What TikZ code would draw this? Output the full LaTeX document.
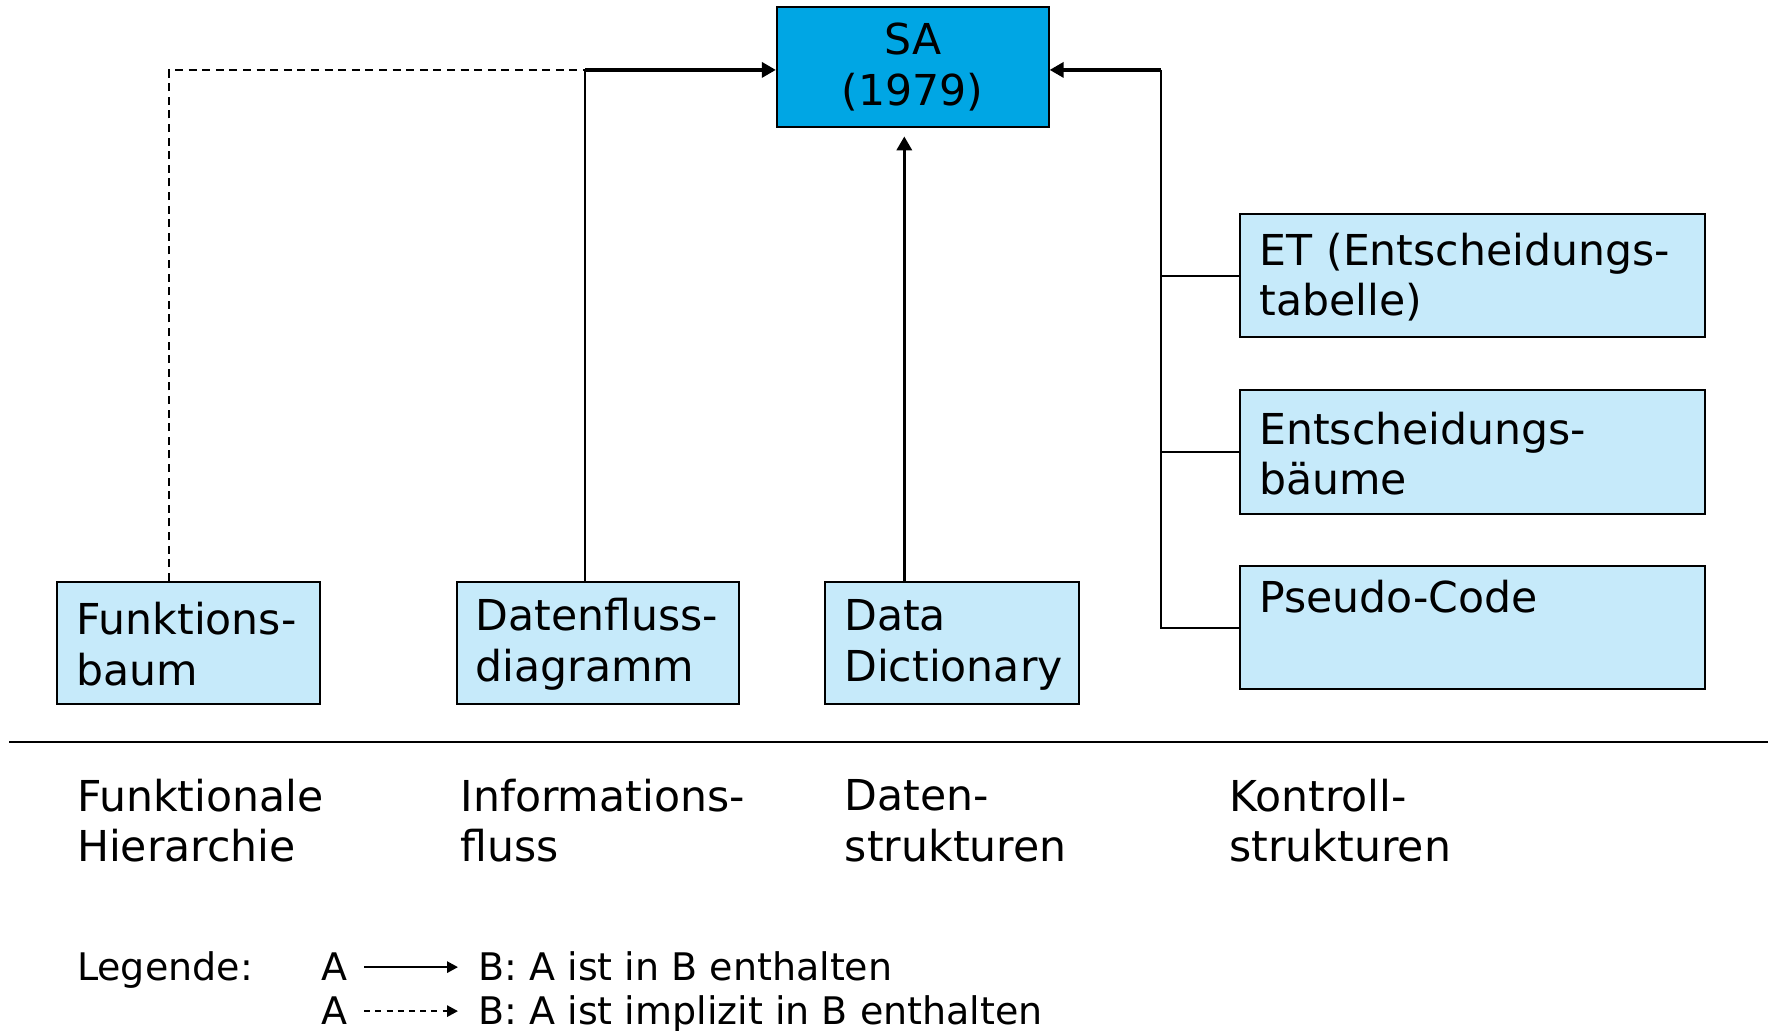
\documentclass[tikz,border=0pt]{standalone}
\usepackage{fontspec}
\setmainfont{DejaVu Sans}
\usetikzlibrary{arrows.meta}

\definecolor{boxblue}{RGB}{198,234,250}
\definecolor{sablue}{RGB}{0,166,228}

\tikzset{
  mainfont/.style={font=\fontsize{21.3pt}{25.2pt}\selectfont},
  legfont/.style={font=\fontsize{19pt}{22pt}\selectfont},
  box/.style={draw=black, line width=1pt, fill=boxblue, mainfont,
    align=left, inner xsep=9.5pt, inner ysep=0pt},
  sabox/.style={draw=black, line width=1pt, fill=sablue, mainfont,
    align=center, minimum width=135.9pt, minimum height=60.3pt, inner sep=0pt},
  label/.style={mainfont, align=left, inner sep=0pt, anchor=west},
  legtext/.style={legfont, inner sep=0pt, anchor=base west},
  conn/.style={line width=1pt},
  dashconn/.style={line width=1pt, dash pattern=on 4pt off 2.8pt},
  mainarrow/.style={line width=1.7pt, -{Triangle[length=7pt,width=7.5pt]}},
  legarrow/.style={line width=1.3pt, -{Triangle[length=5.5pt,width=5.5pt]}},
  legdash/.style={line width=1.3pt, dash pattern=on 3pt off 2.6pt, -{Triangle[length=5.5pt,width=5.5pt]}},
}

\begin{document}
\begin{tikzpicture}[x=0.5638pt, y=-0.5638pt]
\useasboundingbox (0,0) rectangle (1568,914);

% central method box
\node[sabox] (sa) at (809.5,59.5) {SA\\(1979)};

% description techniques along the bottom
\node[box, text width=112.4pt, minimum height=60.9pt] (fb) at (167.5,570) {\strut Funktions-\\baum};
\node[box, text width=122pt, minimum height=60.9pt] (dfd) at (530,570) {\strut Datenfluss-\\diagramm};
\node[box, text width=108pt, minimum height=60.9pt] (dd) at (844.5,570) {\strut Data\\Dictionary};

% control structure techniques on the right
\node[box, text width=213.3pt, minimum height=61.5pt] (et) at (1306,244.5) {\strut ET (Entscheidungs-\\tabelle)};
\node[box, text width=213.3pt, minimum height=62pt] (eb) at (1306,401) {\strut Entscheidungs-\\bäume};
\node[box, text width=213.3pt, minimum height=61.5pt] (pc) at (1306,556.5) {\strut Pseudo-Code\\\strut};

% junction points of the connectors
\coordinate (jl) at (519,62);
\coordinate (jr) at (1030,62);

% left side: data flow (solid) and function tree (dashed)
\draw[conn] (519,0 |- dfd.north) -- (jl);
\draw[dashconn] (150,0 |- fb.north) |- (jl);
\draw[mainarrow] (jl) -- (jl -| sa.west);

% data dictionary
\draw[mainarrow, shorten >=4pt] (802,0 |- dd.north) -- (802,0 |- sa.south);

% right side: control structures
\draw[conn] (jr) |- (pc.west);
\draw[conn] (jr |- et.west) -- (et.west);
\draw[conn] (jr |- eb.west) -- (eb.west);
\draw[mainarrow] (jr) -- (jr -| sa.east);

% separator
\draw[line width=1pt] (8,658) -- (1568,658);

% category labels
\node[label] (c1) at (68,728) {Funktionale\\Hierarchie};
\node[label] (c2) at (408,728) {Informations-\\fluss};
\node[label] (c3) at (749,728) {Daten-\\strukturen};
\node[label] (c4) at (1090,728) {Kontroll-\\strukturen};

% legend
\node[legtext] (leg) at (68,870) {Legende:};
\node[legtext] (la1) at (285,870) {A};
\node[legtext] (lb1) at (424,870) {B: A ist in B enthalten};
\node[legtext] (la2) at (285,909) {A};
\node[legtext] (lb2) at (424,909) {B: A ist implizit in B enthalten};
\draw[legarrow, shorten <=8pt, shorten >=10pt] (la1.east) -- (la1.east -| lb1.west);
\draw[legdash, shorten <=8pt, shorten >=10pt] (la2.east) -- (la2.east -| lb2.west);
\end{tikzpicture}
\end{document}
